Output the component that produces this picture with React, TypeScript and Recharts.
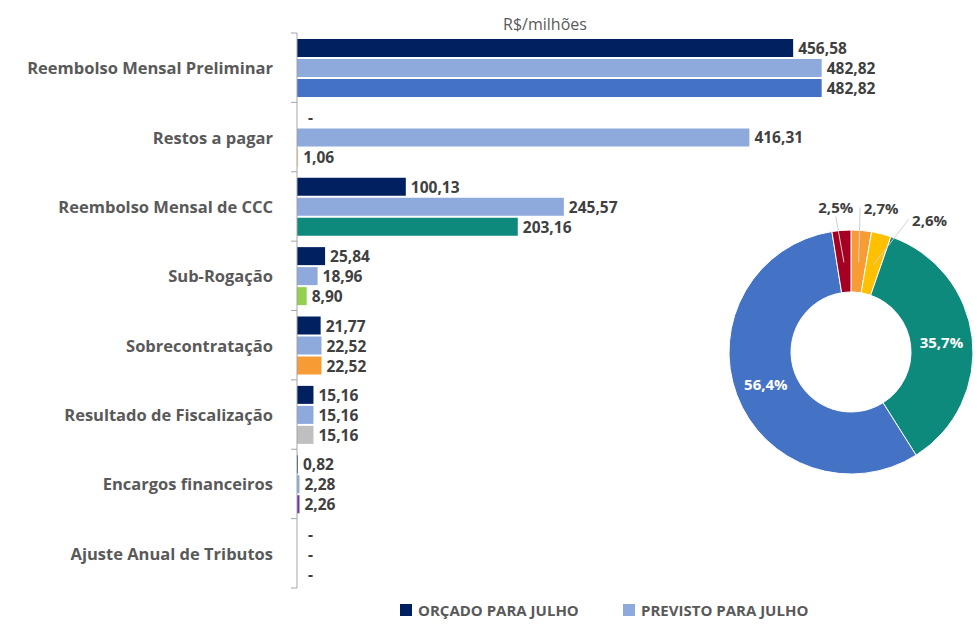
import { BarChart, Bar, XAxis, YAxis, LabelList, Cell, PieChart, Pie } from "recharts";

const categories = [
  "Reembolso Mensal Preliminar",
  "Restos a pagar",
  "Reembolso Mensal de CCC",
  "Sub-Rogação",
  "Sobrecontratação",
  "Resultado de Fiscalização",
  "Encargos financeiros",
  "Ajuste Anual de Tributos",
];
const orcado = [456.58, 0, 100.13, 25.84, 21.77, 15.16, 0.82, 0];
const previsto = [482.82, 416.31, 245.57, 18.96, 22.52, 15.16, 2.28, 0];
const realizado = [482.82, 1.06, 203.16, 8.9, 22.52, 15.16, 2.26, 0];
const realizadoColors = ["#4472C4", "#F2D48A", "#0E8A7C", "#92D050", "#F79B34", "#BFBFBF", "#7030A0", "#7030A0"];

const legendLabels = ["ORÇADO PARA JULHO", "PREVISTO PARA JULHO"];
const legendColors = ["#002060", "#8EA9DB"];

const pieNames = ["Sobrecontratação", "Restos a pagar", "Reembolso Mensal de CCC", "Reembolso Mensal Preliminar", "Outros"];
const pieValues = [2.7, 2.6, 35.7, 56.4, 2.5];
const pieColors = ["#F79B34", "#FFC000", "#0E8A7C", "#4472C4", "#A50021"];

const barData = categories.map((name, i) => ({
  name,
  orcado: orcado[i],
  previsto: previsto[i],
  realizado: realizado[i],
}));
const pieData = pieNames.map((name, i) => ({ name, value: pieValues[i] }));

const PLOT_H = 555;
const RADIAN = Math.PI / 180;

const fmt = (v: any) => (Number(v) === 0 ? "-" : Number(v).toFixed(2).replace(".", ","));
const pct = (v: number) => v.toFixed(1).replace(".", ",") + "%";

function CategoryTick(props: any) {
  const { x, y, payload, index } = props;
  const half = PLOT_H / categories.length / 2;
  const axisX = x + 8;
  return (
    <g>
      <text x={axisX - 24} y={y} textAnchor="end" dominantBaseline="central" fontSize={16.5} fontWeight={700} fill="#595959">
        {payload.value}
      </text>
      <line x1={axisX - 6} x2={axisX} y1={y - half} y2={y - half} stroke="#A6A6A6" />
      {index === categories.length - 1 && (
        <line x1={axisX - 6} x2={axisX} y1={y + half} y2={y + half} stroke="#A6A6A6" />
      )}
    </g>
  );
}

function ValueLabel(props: any) {
  const { x, y, width, height, value } = props;
  const zero = Number(value) === 0;
  return (
    <text
      x={x + (width || 0) + (zero ? 11 : 5)}
      y={y + height / 2}
      dominantBaseline="central"
      fill="#404040"
      fontSize={15.5}
      fontWeight={700}
    >
      {fmt(value)}
    </text>
  );
}

// label nudges for the small outside labels, by slice index
const labelNudge: Record<number, [number, number]> = { 0: [18, -2], 1: [43, 6], 4: [-4, -2] };

function PieLabel(props: any) {
  const { cx, cy, midAngle, innerRadius, outerRadius, value, index } = props;
  const cos = Math.cos(-midAngle * RADIAN);
  const sin = Math.sin(-midAngle * RADIAN);
  if (value > 10) {
    const r = (innerRadius + outerRadius) / 2;
    return (
      <text x={cx + r * cos} y={cy + r * sin} textAnchor="middle" dominantBaseline="central" fill="#fff" fontSize={15} fontWeight={700}>
        {pct(value)}
      </text>
    );
  }
  const [dx, dy] = labelNudge[index] || [0, 0];
  const lx = cx + (outerRadius + 21) * cos + dx;
  const ly = cy + (outerRadius + 21) * sin + dy;
  const sx = cx + 90 * cos;
  const sy = cy + 90 * sin;
  const left = lx < cx;
  const ex = left ? lx : lx - 21;
  const ey = left ? ly + 9 : ly;
  return (
    <g>
      <polyline points={`${sx},${sy} ${ex},${ey}`} fill="none" stroke="#D0D0D0" strokeWidth={1} />
      <text x={lx} y={ly} textAnchor="middle" dominantBaseline="central" fill="#404040" fontSize={15} fontWeight={700}>
        {pct(value)}
      </text>
    </g>
  );
}

export default function App() {
  return (
    <div style={{ position: "absolute", left: 0, top: 0, width: 977, height: 627, background: "#fff", fontFamily: "'Open Sans', sans-serif" }}>
      <div style={{ position: "absolute", left: 445, top: 13, width: 200, textAlign: "center", fontSize: 16, color: "#595959" }}>
        R$/milhões
      </div>
      <BarChart
        width={977}
        height={627}
        data={barData}
        layout="vertical"
        margin={{ top: 33, right: 28, bottom: 39, left: 0 }}
        barGap={2}
      >
        <XAxis type="number" domain={[0, 600]} hide />
        <YAxis
          type="category"
          dataKey="name"
          width={297}
          tick={<CategoryTick />}
          tickLine={false}
          tickSize={6}
          tickMargin={2}
          axisLine={{ stroke: "#A6A6A6" }}
          interval={0}
        />
        <Bar dataKey="orcado" fill="#002060" barSize={18} minPointSize={0.01} isAnimationActive={false}>
          <LabelList dataKey="orcado" content={<ValueLabel />} />
        </Bar>
        <Bar dataKey="previsto" fill="#8EA9DB" barSize={18} minPointSize={0.01} isAnimationActive={false}>
          <LabelList dataKey="previsto" content={<ValueLabel />} />
        </Bar>
        <Bar dataKey="realizado" barSize={18} minPointSize={0.01} isAnimationActive={false}>
          {realizado.map((_, i) => (
            <Cell key={i} fill={realizadoColors[i]} />
          ))}
          <LabelList dataKey="realizado" content={<ValueLabel />} />
        </Bar>
      </BarChart>
      <div style={{ position: "absolute", left: 696, top: 187 }}>
        <PieChart width={300} height={320}>
          <Pie
            data={pieData}
            dataKey="value"
            cx={150}
            cy={160}
            innerRadius={60}
            outerRadius={122}
            startAngle={90}
            endAngle={-270}
            stroke="#fff"
            strokeWidth={1}
            label={PieLabel}
            labelLine={false}
            isAnimationActive={false}
          >
            {pieData.map((_, i) => (
              <Cell key={i} fill={pieColors[i]} />
            ))}
          </Pie>
        </PieChart>
      </div>
      {legendLabels.map((l, i) => (
        <div
          key={l}
          style={{
            position: "absolute",
            left: i === 0 ? 400 : 623,
            top: 600,
            display: "flex",
            alignItems: "center",
            gap: 6,
            fontSize: 15,
            fontWeight: 700,
            color: "#595959",
            whiteSpace: "nowrap",
          }}
        >
          <span style={{ width: 12, height: 12, background: legendColors[i], display: "inline-block" }} />
          <span>{l}</span>
        </div>
      ))}
    </div>
  );
}
